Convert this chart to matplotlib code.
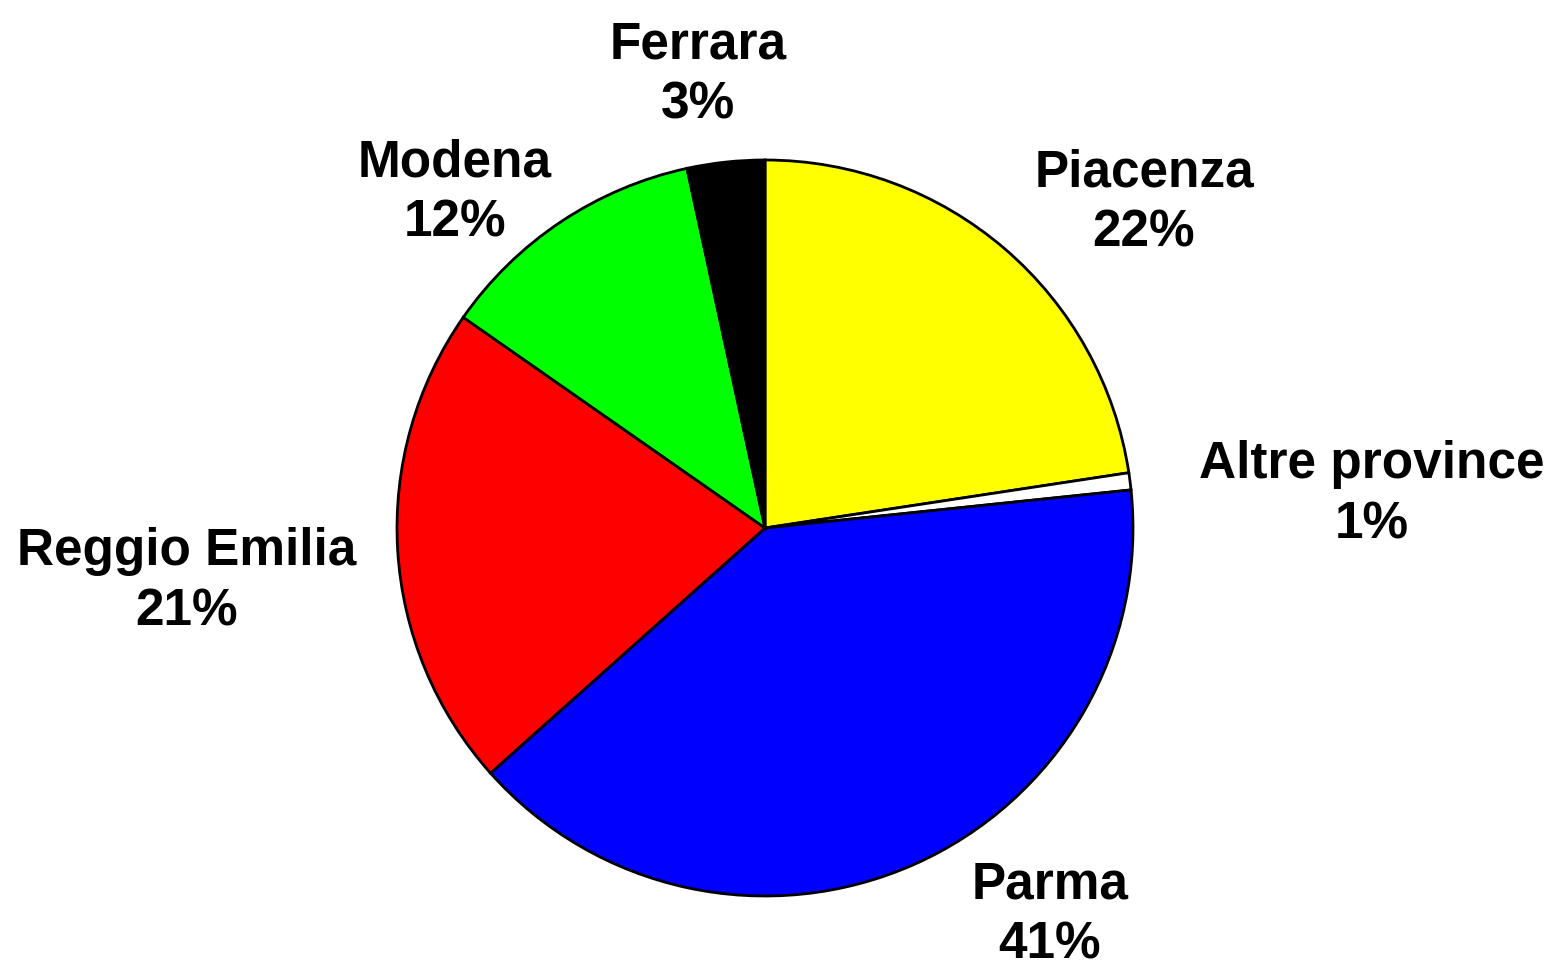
import matplotlib
matplotlib.use("Agg")
import matplotlib.pyplot as plt

categories = ["Piacenza", "Altre province", "Parma", "Reggio Emilia", "Modena", "Ferrara"]
values = [22.6, 0.75, 40.05, 21.3, 11.9, 3.4]
pct_labels = ["22%", "1%", "41%", "21%", "12%", "3%"]
colors = ["#FFFF00", "#FFFFFF", "#0000FF", "#FF0000", "#00FF00", "#000000"]
# label centers in pixels (x, y from top)
label_px = [(1144, 203), (1372, 495), (1050, 915), (187, 582), (455, 193), (698, 75)]

W, H = 1552, 971
cx, cy, R = 765, 528, 368

fig = plt.figure(figsize=(W / 100, H / 100), dpi=100)
ax = fig.add_axes([0, 0, 1, 1])
ax.pie(values, colors=colors, startangle=90, counterclock=False, radius=1.0,
       wedgeprops=dict(edgecolor="black", linewidth=2))
ax.set_xlim(-cx / R, (W - cx) / R)
ax.set_ylim(-(H - cy) / R, cy / R)
ax.set_aspect("equal")
ax.axis("off")

for name, pct, (px, py) in zip(categories, pct_labels, label_px):
    ax.text((px - cx) / R, (cy - py) / R, f"{name}\n{pct}",
            ha="center", va="center", fontsize=37, fontweight="bold",
            family="Liberation Sans", linespacing=1.3)

fig.savefig("out.png", dpi=100)
